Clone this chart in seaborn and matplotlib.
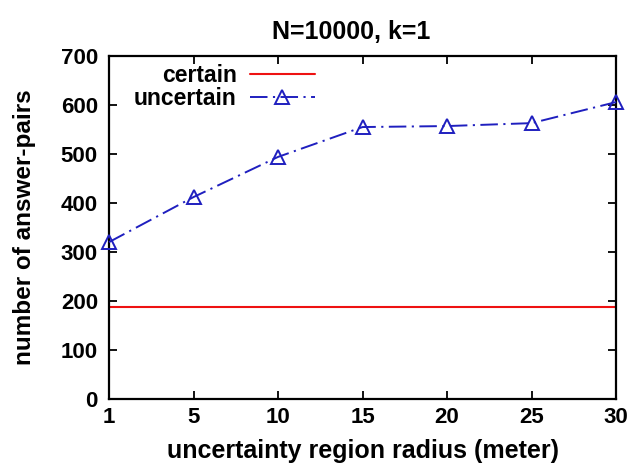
import matplotlib
matplotlib.use("Agg")
import matplotlib.pyplot as plt
import seaborn as sns
import pandas as pd

# ---- data ----
radius_labels = ["1", "5", "10", "15", "20", "25", "30"]
certain = [188, 188, 188, 188, 188, 188, 188]
uncertain = [320, 412, 494, 555, 557, 563, 606]
y_ticks = [0, 100, 200, 300, 400, 500, 600, 700]

sns.set_style("ticks")
plt.rcParams["font.family"] = ["Liberation Sans", "DejaVu Sans"]
plt.rcParams["font.weight"] = "bold"
for k in ["text.color", "axes.labelcolor", "xtick.color", "ytick.color"]:
    plt.rcParams[k] = "black"

pos = list(range(len(radius_labels)))
df = pd.DataFrame({"pos": pos, "certain": certain, "uncertain": uncertain})

fig = plt.figure(figsize=(6.3, 4.67), dpi=100)
ax = fig.add_axes([0.173, 0.146, 0.805, 0.734])

sns.lineplot(data=df, x="pos", y="certain", ax=ax, color="#ee1111", lw=1.5,
             label="certain")
sns.lineplot(data=df, x="pos", y="uncertain", ax=ax, color="#1f1fbf", lw=1.4,
             linestyle=(0, (9, 2.8, 1.1, 2.8)), marker="^", markersize=10,
             markerfacecolor="none", markeredgecolor="#1f1fbf", markeredgewidth=1.4,
             label="uncertain", clip_on=False, zorder=5)

ax.set_xlim(0, len(pos) - 1)
ax.set_ylim(0, 700)
ax.set_xticks(pos)
ax.set_xticklabels(radius_labels)
ax.set_yticks(y_ticks)

for s in ax.spines.values():
    s.set_linewidth(1.6)
    s.set_color("black")
    s.set_visible(True)

ax.tick_params(direction="in", length=6, width=1.3, top=True, right=True,
               labelsize=16, colors="black")
ax.tick_params(axis="y", pad=8)
ax.tick_params(axis="x", pad=6)
for lbl in ax.get_xticklabels() + ax.get_yticklabels():
    lbl.set_fontweight("bold")

ax.set_xlabel("uncertainty region radius (meter)", fontsize=18, fontweight="bold", labelpad=8)
ax.set_ylabel("number of answer-pairs", fontsize=17.5, fontweight="bold", labelpad=18)
ax.set_title("N=10000, k=1", fontsize=18, fontweight="bold", pad=12, x=0.477)

leg = ax.legend(loc="upper right", bbox_to_anchor=(0.406, 0.976), frameon=False,
                markerfirst=False, handlelength=2.85, handletextpad=0.57,
                labelspacing=0.0, borderpad=0, borderaxespad=0, numpoints=1,
                prop={"size": 16.5, "weight": "bold"})

fig.savefig("out.png", dpi=100)
